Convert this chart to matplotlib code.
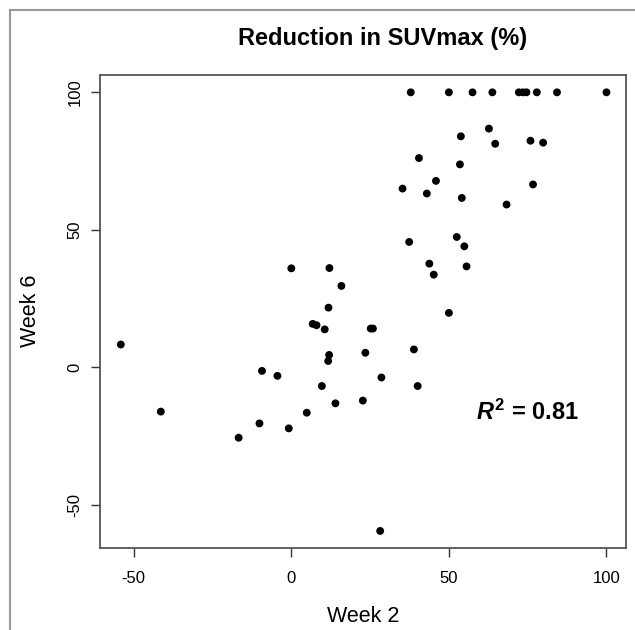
import matplotlib
matplotlib.use('Agg')
import matplotlib.pyplot as plt
from matplotlib.lines import Line2D

plt.rcParams['font.family'] = ['Liberation Sans', 'DejaVu Sans']
plt.rcParams['axes.unicode_minus'] = False
plt.rcParams['mathtext.fontset'] = 'custom'
plt.rcParams['mathtext.it'] = 'Liberation Sans:italic:bold'
plt.rcParams['mathtext.rm'] = 'Liberation Sans:bold'
plt.rcParams['mathtext.bf'] = 'Liberation Sans:bold'

# === 数据 ===
week2 = [37.9, 50.0, 57.5, 63.8, 72.2, 73.5, 74.6, 77.9, 84.3, 100.0,
         62.7, 53.8, 64.7, 75.9, 79.9, 40.5, 53.5, 45.9, 35.3, 43.0,
         76.7, 54.1, 68.3, 37.4, 52.5, 54.9, 0.0, 12.1, 43.8, 55.6,
         45.2, 15.9, 11.8, 50.0, 6.8, 8.0, 10.6, 25.2, 25.9, -54.1,
         38.9, 23.5, 12.0, 11.7, -9.3, -4.4, 28.6, 9.7, 40.1, 14.0,
         22.7, -41.4, 4.9, -10.1, -0.8, -16.7, 28.2]
week6 = [100, 100, 100, 100, 100, 100, 100, 100, 100, 100,
         86.8, 84.0, 81.3, 82.4, 81.7, 76.1, 73.8, 67.8, 65.0, 63.2,
         66.5, 61.6, 59.2, 45.6, 47.4, 44.0, 36.0, 36.1, 37.7, 36.7,
         33.7, 29.6, 21.7, 19.8, 15.8, 15.3, 13.8, 14.1, 14.1, 8.3,
         6.5, 5.3, 4.5, 2.3, -1.3, -3.1, -3.7, -6.8, -6.8, -13.1,
         -12.1, -16.1, -16.5, -20.4, -22.2, -25.6, -59.5]
x_ticks = [-50, 0, 50, 100]
y_ticks = [-50, 0, 50, 100]
title = 'Reduction in SUVmax (%)'
r2_label = r'$\mathit{R}^{2}$ = 0.81'

W, H = 635, 630
fig = plt.figure(figsize=(W / 100, H / 100), dpi=100)
ax = fig.add_axes([100 / W, 1 - 548 / H, 526 / W, 473 / H])

ax.scatter(week2, week6, s=32, color='black', edgecolors='none', zorder=3)

ax.set_xlim(-60.7, 106.2)
ax.set_ylim(-65.7, 106.3)
ax.set_xticks(x_ticks)
ax.set_xticklabels([str(v) for v in x_ticks])
ax.set_yticks(y_ticks)
ax.set_yticklabels([str(v) for v in y_ticks], rotation=90, va='center')
ax.tick_params(axis='both', direction='out', length=6.7, width=1.0,
               color='#333333', labelsize=12, labelcolor='black')
ax.tick_params(axis='x', pad=10)
ax.tick_params(axis='y', pad=6)
for sp in ax.spines.values():
    sp.set_color('#555555')
    sp.set_linewidth(1.3)

ax.text(58.6, -16.3, r2_label, fontsize=17, fontweight='bold',
        ha='left', va='center')

# 标题与坐标轴标签
fig.text(383 / W, 1 - 39 / H, title, fontsize=17, fontweight='bold',
         ha='center', va='center')
fig.text(363 / W, 1 - 616 / H, 'Week 2', fontsize=15.5, ha='center', va='center')
fig.text(31 / W, 1 - 311 / H, 'Week 6', fontsize=15.5, rotation=90,
         ha='center', va='center')

# 外框线 (左边和上边)
fig.add_artist(Line2D([10 / W, 10 / W], [0, 1 - 10 / H], color='#999999', lw=1.5))
fig.add_artist(Line2D([10 / W, 1], [1 - 10 / H, 1 - 10 / H], color='#999999', lw=1.5))

fig.savefig('out.png', dpi=100)
